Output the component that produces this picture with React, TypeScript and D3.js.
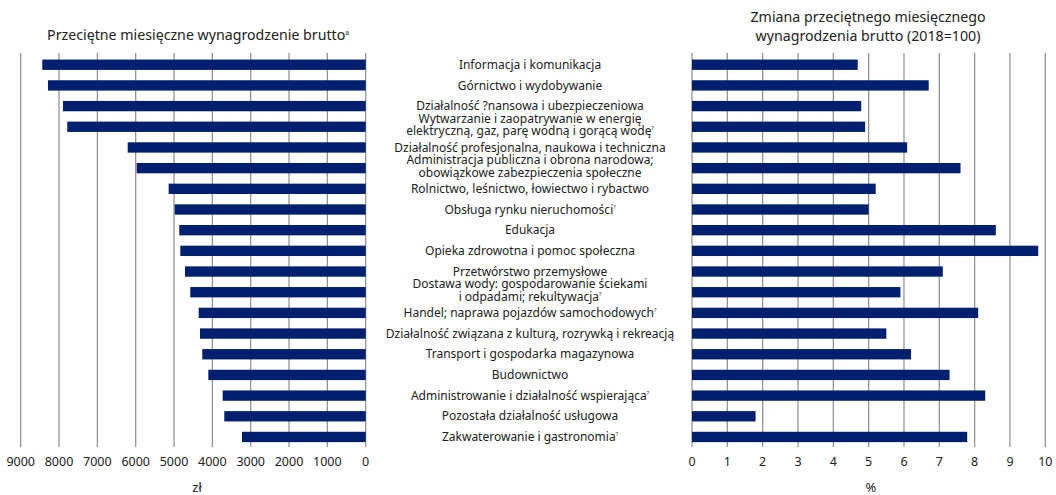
import React, { useEffect, useRef } from "react";
import * as d3 from "d3";

// branze, "|" = nowa linia, "^" = przypis
const categories = [
  "Informacja i komunikacja",
  "Górnictwo i wydobywanie",
  "Działalność ?nansowa i ubezpieczeniowa",
  "Wytwarzanie i zaopatrywanie w energię|elektryczną, gaz, parę wodną i gorącą wodę^",
  "Działalność profesjonalna, naukowa i techniczna",
  "Administracja publiczna i obrona narodowa;|obowiązkowe zabezpieczenia społeczne",
  "Rolnictwo, leśnictwo, łowiectwo i rybactwo",
  "Obsługa rynku nieruchomości^",
  "Edukacja",
  "Opieka zdrowotna i pomoc społeczna",
  "Przetwórstwo przemysłowe",
  "Dostawa wody: gospodarowanie ściekami|i odpadami; rekultywacja^",
  "Handel; naprawa pojazdów samochodowych^",
  "Działalność związana z kulturą, rozrywką i rekreacją",
  "Transport i gospodarka magazynowa",
  "Budownictwo",
  "Administrowanie i działalność wspierająca^",
  "Pozostała działalność usługowa",
  "Zakwaterowanie i gastronomia^",
];

const wages = [
  8437, 8289, 7897, 7785, 6209, 5975, 5140, 4983, 4863, 4837,
  4714, 4576, 4357, 4323, 4263, 4106, 3731, 3689, 3227,
];

const change = [
  4.69, 6.7, 4.79, 4.9, 6.09, 7.6, 5.2, 5.0, 8.6, 9.8,
  7.1, 5.9, 8.1, 5.5, 6.2, 7.29, 8.3, 1.8, 7.79,
];

const wageTicks = [9000, 8000, 7000, 6000, 5000, 4000, 3000, 2000, 1000, 0];
const changeTicks = [0, 1, 2, 3, 4, 5, 6, 7, 8, 9, 10];

const W = 1056, H = 495;
const NAVY = "#00206f";
const FONT = "'Noto Sans', sans-serif";

export default function App() {
  const ref = useRef<SVGSVGElement>(null);

  useEffect(() => {
    const svg = d3.select(ref.current);
    svg.selectAll("*").remove();

    const idx = categories.map((_, i) => i);
    const y = d3.scaleBand<number>().domain(idx).range([54.4, 447.3])
      .paddingInner(0.5).paddingOuter(0.25);
    const xl = d3.scaleLinear().domain([0, 9000]).range([365.7, 20.7]);
    const xr = d3.scaleLinear().domain([0, 10]).range([692, 1045.3]);
    const gTop = 53, gBot = 447;

    // siatka
    svg.append("g").selectAll("line").data(wageTicks).join("line")
      .attr("x1", d => xl(d)).attr("x2", d => xl(d))
      .attr("y1", gTop).attr("y2", gBot)
      .attr("stroke", "#8c8c8c").attr("stroke-width", 1.2);
    svg.append("g").selectAll("line").data(changeTicks).join("line")
      .attr("x1", d => xr(d)).attr("x2", d => xr(d))
      .attr("y1", gTop).attr("y2", gBot)
      .attr("stroke", "#8c8c8c").attr("stroke-width", 1.2);

    // slupki
    svg.append("g").selectAll("rect").data(wages).join("rect")
      .attr("x", d => xl(d)).attr("width", d => xl(0) - xl(d))
      .attr("y", (_, i) => y(i)!).attr("height", y.bandwidth())
      .attr("fill", NAVY);
    svg.append("g").selectAll("rect").data(change).join("rect")
      .attr("x", xr(0)).attr("width", d => xr(d) - xr(0))
      .attr("y", (_, i) => y(i)!).attr("height", y.bandwidth())
      .attr("fill", NAVY);

    // etykiety osi
    svg.append("g").selectAll("text").data(wageTicks).join("text")
      .attr("x", d => xl(d)).attr("y", 466)
      .attr("text-anchor", "middle").attr("font-size", 12.5)
      .attr("font-family", FONT).attr("fill", "#222")
      .text(d => String(d));
    svg.append("g").selectAll("text").data(changeTicks).join("text")
      .attr("x", d => xr(d)).attr("y", 466)
      .attr("text-anchor", "middle").attr("font-size", 12.5)
      .attr("font-family", FONT).attr("fill", "#222")
      .text(d => String(d));

    svg.append("text").attr("x", 197).attr("y", 492)
      .attr("text-anchor", "middle").attr("font-size", 13)
      .attr("font-family", FONT).attr("fill", "#222").text("zł");
    svg.append("text").attr("x", 871).attr("y", 492)
      .attr("text-anchor", "middle").attr("font-size", 13)
      .attr("font-family", FONT).attr("fill", "#222").text("%");

    // nazwy branz
    const lh = 12.6;
    categories.forEach((c, i) => {
      const lines = c.split("|");
      const cy = y(i)! + y.bandwidth() / 2;
      const t = svg.append("text")
        .attr("x", 530).attr("text-anchor", "middle")
        .attr("font-size", 12).attr("font-family", FONT).attr("fill", "#222");
      lines.forEach((ln, j) => {
        const ty = cy + 4.2 + (j - (lines.length - 1) / 2) * lh - (lines.length > 1 ? 2 : 0);
        const note = ln.endsWith("^");
        t.append("tspan").attr("x", 530).attr("y", ty)
          .text(note ? ln.slice(0, -1) : ln);
        if (note) {
          t.append("tspan").attr("dy", -5).attr("font-size", 5.5).text("?");
        }
      });
    });

    // tytuly
    const tl = svg.append("text").attr("x", 198).attr("y", 40)
      .attr("text-anchor", "middle").attr("font-size", 14.2)
      .attr("font-family", FONT).attr("fill", "#222");
    tl.append("tspan").text("Przeciętne miesięczne wynagrodzenie brutto");
    tl.append("tspan").attr("dy", -5).attr("font-size", 6.5).text("a");

    svg.append("text").attr("x", 868).attr("y", 22)
      .attr("text-anchor", "middle").attr("font-size", 14.2)
      .attr("font-family", FONT).attr("fill", "#222")
      .text("Zmiana przeciętnego miesięcznego");
    svg.append("text").attr("x", 868).attr("y", 41)
      .attr("text-anchor", "middle").attr("font-size", 14.2)
      .attr("font-family", FONT).attr("fill", "#222")
      .text("wynagrodzenia brutto (2018=100)");
  }, []);

  return (
    <svg ref={ref} width={W} height={H}
      style={{ position: "absolute", left: 0, top: 0, background: "#fff" }} />
  );
}
